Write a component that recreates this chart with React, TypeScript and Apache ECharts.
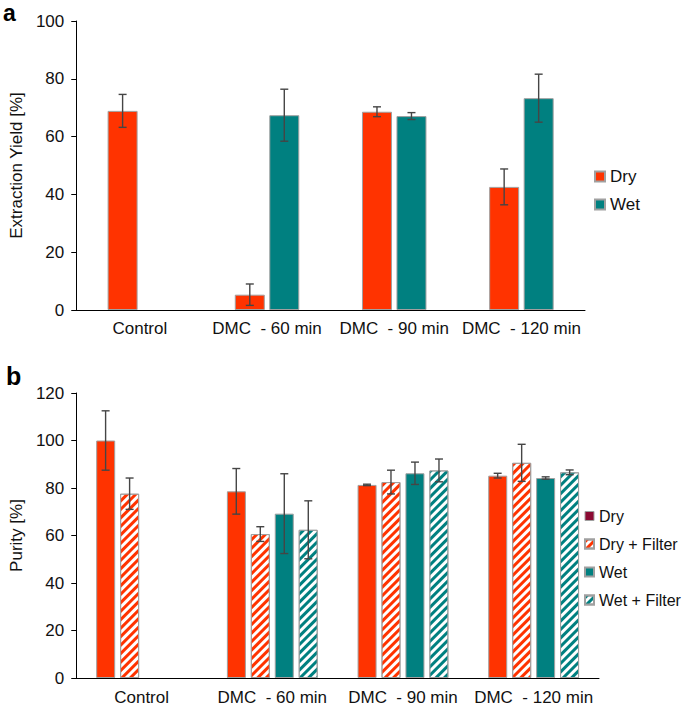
import React, { useEffect, useRef } from "react";
import * as echarts from "echarts";

const categories = ["Control", "DMC  - 60 min", "DMC  - 90 min", "DMC  - 120 min"];

// Panel a: extraction yield [%]
const yieldDry = [68.9, 5.3, 68.6, 42.6];
const yieldDryErr = [5.7, 3.7, 1.7, 6.2];
const yieldWet = [null, 67.4, 67.1, 73.3];
const yieldWetErr = [null, 9.0, 1.2, 8.3];

// Panel b: purity [%]
const purityDry = [100.0, 78.6, 81.3, 85.2];
const purityDryErr = [12.5, 9.6, 0.3, 1.0];
const purityDryFilter = [77.6, 60.6, 82.5, 90.6];
const purityDryFilterErr = [6.6, 3.1, 5.0, 7.8];
const purityWet = [null, 69.2, 86.2, 84.2];
const purityWetErr = [null, 16.8, 4.7, 0.5];
const purityWetFilter = [null, 62.4, 87.4, 86.6];
const purityWetFilterErr = [null, 12.2, 4.8, 1.0];

const yieldTicks = [0, 20, 40, 60, 80, 100];
const purityTicks = [0, 20, 40, 60, 80, 100, 120];

const RED = "#ff3300";
const TEAL = "#008080";
const BORDER = "#a0a0a0";
const ERR = "#454545";
const FONT = "Liberation Sans, Arial, sans-serif";

function errData(vals: (number | null)[], errs: (number | null)[]) {
  const out: number[][] = [];
  vals.forEach((v, i) => {
    const e = errs[i];
    if (v != null && e != null) out.push([i, v - e, v + e]);
  });
  return out;
}

function errSeries(name: string, idx: number, vals: (number | null)[], errs: (number | null)[], offset: number) {
  return {
    type: "custom",
    name,
    xAxisIndex: idx,
    yAxisIndex: idx,
    z: 5,
    silent: true,
    data: errData(vals, errs),
    renderItem: (params: any, api: any) => {
      const c = api.value(0);
      const lo = api.value(1);
      const hi = api.value(2);
      const pHi = api.coord([c, hi]);
      const pLo = api.coord([c, lo]);
      const x = pHi[0] + offset;
      const cap = 4;
      const style = { stroke: ERR, lineWidth: 1.4 };
      return {
        type: "group",
        children: [
          { type: "line", shape: { x1: x, y1: pHi[1], x2: x, y2: pLo[1] }, style },
          { type: "line", shape: { x1: x - cap, y1: pHi[1], x2: x + cap, y2: pHi[1] }, style },
          { type: "line", shape: { x1: x - cap, y1: pLo[1], x2: x + cap, y2: pLo[1] }, style },
        ],
      };
    },
  };
}

function hatch(color: string) {
  return {
    color,
    dashArrayX: [1, 0],
    dashArrayY: [3, 3],
    rotation: -Math.PI / 4,
    symbolSize: 1,
  };
}

export default function App() {
  const ref = useRef<HTMLDivElement>(null);

  useEffect(() => {
    if (!ref.current) return;
    const chart = echarts.init(ref.current, null, { renderer: "svg" });

    const axisLine = { show: true, lineStyle: { color: "#000", width: 1 } };
    const labelStyle = { color: "#111", fontSize: 17, fontFamily: FONT };

    const topW = 30;
    const topSp = 34.5;
    const botW = 19;
    const botSp = 24;

    const option: any = {
      animation: false,
      backgroundColor: "#fff",
      textStyle: { fontFamily: FONT },
      graphic: [
        { type: "text", style: { x: 3, y: 1, text: "a", font: `bold 23px ${FONT}`, fill: "#000", verticalAlign: "top" } },
        { type: "text", style: { x: 6, y: 363, text: "b", font: `bold 25px ${FONT}`, fill: "#000", verticalAlign: "top" } },
      ],
      grid: [
        { left: 66, top: 21, width: 519, height: 289 },
        { left: 66, top: 393, width: 533, height: 285 },
      ],
      legend: [
        {
          orient: "vertical",
          left: 589,
          top: 163,
          icon: "rect",
          itemWidth: 10,
          itemHeight: 10,
          itemGap: 11,
          textStyle: { fontSize: 17, color: "#111", fontFamily: FONT },
          data: ["Dry", "Wet"],
        },
        {
          orient: "vertical",
          left: 584,
          top: 503,
          icon: "rect",
          itemWidth: 9,
          itemHeight: 9,
          itemGap: 12,
          padding: [5, 0, 5, 0],
          textStyle: { fontSize: 16, color: "#111", fontFamily: FONT },
          data: [
            { name: "Dry", itemStyle: { color: "#8b0a32", borderColor: BORDER, borderWidth: 1 } },
            "Dry + Filter",
            "Wet",
            "Wet + Filter",
          ],
        },
      ],
      xAxis: [
        {
          type: "category",
          gridIndex: 0,
          data: categories,
          axisLine,
          axisTick: { show: false },
          axisLabel: { ...labelStyle, margin: 10, interval: 0 },
        },
        {
          type: "category",
          gridIndex: 1,
          data: categories,
          axisLine,
          axisTick: { show: false },
          axisLabel: { ...labelStyle, margin: 11, interval: 0 },
        },
      ],
      yAxis: [
        {
          type: "value",
          gridIndex: 0,
          min: yieldTicks[0],
          max: yieldTicks[yieldTicks.length - 1],
          interval: 20,
          axisLine,
          axisTick: { show: true, length: 5, lineStyle: { color: "#000" } },
          splitLine: { show: false },
          axisLabel: { ...labelStyle, margin: 12 },
          name: "Extraction Yield [%]",
          nameLocation: "middle",
          nameGap: 48,
          nameTextStyle: { fontSize: 17, color: "#111", fontFamily: FONT },
        },
        {
          type: "value",
          gridIndex: 1,
          min: purityTicks[0],
          max: purityTicks[purityTicks.length - 1],
          interval: 20,
          axisLine,
          axisTick: { show: true, length: 5, lineStyle: { color: "#000" } },
          splitLine: { show: false },
          axisLabel: { ...labelStyle, margin: 12 },
          name: "Purity [%]",
          nameLocation: "middle",
          nameGap: 48,
          nameTextStyle: { fontSize: 17, color: "#111", fontFamily: FONT },
        },
      ],
      series: [
        {
          type: "bar",
          name: "Dry",
          xAxisIndex: 0,
          yAxisIndex: 0,
          barWidth: topW,
          barGap: "15%",
          data: yieldDry,
          itemStyle: { color: RED, borderColor: BORDER, borderWidth: 1 },
        },
        {
          type: "bar",
          name: "Wet",
          xAxisIndex: 0,
          yAxisIndex: 0,
          barWidth: topW,
          barGap: "15%",
          data: yieldWet,
          itemStyle: { color: TEAL, borderColor: BORDER, borderWidth: 1 },
        },
        errSeries("errA1", 0, yieldDry, yieldDryErr, -topSp / 2),
        errSeries("errA2", 0, yieldWet, yieldWetErr, topSp / 2),
        {
          type: "bar",
          name: "Dry",
          xAxisIndex: 1,
          yAxisIndex: 1,
          barWidth: botW,
          barGap: "26%",
          data: purityDry,
          itemStyle: { color: RED, borderColor: BORDER, borderWidth: 1 },
        },
        {
          type: "bar",
          name: "Dry + Filter",
          xAxisIndex: 1,
          yAxisIndex: 1,
          barWidth: botW,
          barGap: "26%",
          data: purityDryFilter,
          itemStyle: { color: "#fff", borderColor: BORDER, borderWidth: 1, decal: hatch(RED) },
        },
        {
          type: "bar",
          name: "Wet",
          xAxisIndex: 1,
          yAxisIndex: 1,
          barWidth: botW,
          barGap: "26%",
          data: purityWet,
          itemStyle: { color: TEAL, borderColor: BORDER, borderWidth: 1 },
        },
        {
          type: "bar",
          name: "Wet + Filter",
          xAxisIndex: 1,
          yAxisIndex: 1,
          barWidth: botW,
          barGap: "26%",
          data: purityWetFilter,
          itemStyle: { color: "#fff", borderColor: BORDER, borderWidth: 1, decal: hatch(TEAL) },
        },
        errSeries("errB1", 1, purityDry, purityDryErr, -1.5 * botSp),
        errSeries("errB2", 1, purityDryFilter, purityDryFilterErr, -0.5 * botSp),
        errSeries("errB3", 1, purityWet, purityWetErr, 0.5 * botSp),
        errSeries("errB4", 1, purityWetFilter, purityWetFilterErr, 1.5 * botSp),
      ],
    };

    chart.setOption(option);
    return () => chart.dispose();
  }, []);

  return (
    <div
      ref={ref}
      style={{ position: "fixed", left: 0, top: 0, width: 685, height: 706, background: "#fff" }}
    />
  );
}
